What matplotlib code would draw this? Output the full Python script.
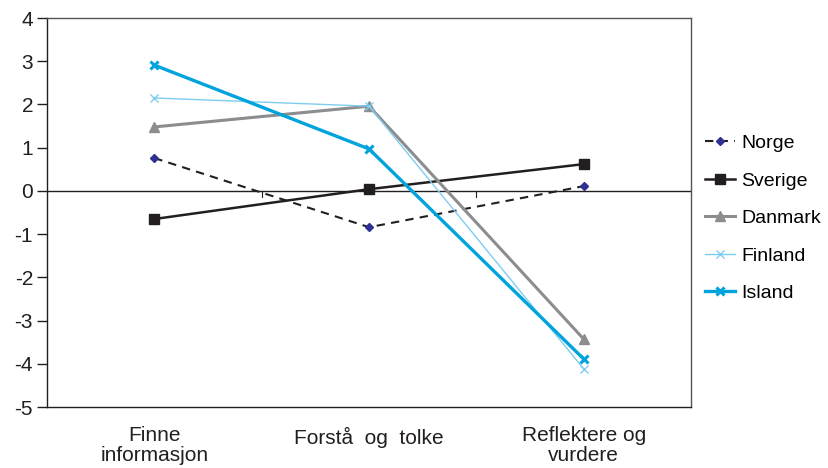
import numpy as np
import matplotlib.pyplot as plt
from matplotlib import rcParams
rcParams.update({'font.size': 12, 'font.family': ['Liberation Sans', 'DejaVu Sans']})

categories = ["Finne\ninformasjon", "Forstå  og  tolke", "Reflektere og\nvurdere"]
norge = [0.76, -0.84, 0.11]
sverige = [-0.65, 0.04, 0.62]
danmark = [1.48, 1.96, -3.43]
finland = [2.15, 1.96, -4.12]
island = [2.91, 0.97, -3.89]
yticks = [4, 3, 2, 1, 0, -1, -2, -3, -4, -5]


def main():
    fig = plt.figure(figsize=(8.29, 4.68), dpi=100)
    ax = fig.add_axes([0.0567, 0.1303, 0.777, 0.8312])
    x = np.arange(len(categories))

    ax.plot(x, norge, color="#231F20", lw=1.5, ls=(0, (4, 3)), marker="D", ms=4,
            mfc="#2E3192", mec="#2E3192", label="Norge")
    ax.plot(x, sverige, color="#231F20", lw=1.8, marker="s", ms=6.5, label="Sverige")
    ax.plot(x, danmark, color="#8C8D8F", lw=2.2, marker="^", ms=7, label="Danmark")
    ax.plot(x, finland, color="#7FCDF0", lw=1.0, marker="x", ms=5.5, mew=1.0, label="Finland")
    ax.plot(x, island, color="#00A3DC", lw=2.4, marker="x", ms=6, mew=2.2, label="Island")

    ax.axhline(0, color="#231F20", lw=1.0, zorder=1)
    # category boundary ticks sitting on the zero line
    for b in [0.5, 1.5]:
        ax.plot([b, b], [0, -0.14], color="#231F20", lw=0.8, zorder=1)

    ax.set_xlim(-0.5, 2.5)
    ax.set_ylim(-5, 4)
    ax.set_yticks(yticks)
    ax.set_yticklabels([str(v) for v in yticks], fontsize=15, color="#231F20")
    ax.set_xticks(x)
    ax.set_xticklabels(categories, fontsize=15, color="#231F20", linespacing=1.05)
    ax.tick_params(axis="x", length=0, pad=14)
    ax.tick_params(axis="y", length=7, width=1.0, color="#231F20", pad=3)
    for s in ax.spines.values():
        s.set_color("#231F20")
        s.set_linewidth(1.0)
    for s in ["top", "right"]:
        ax.spines[s].set_color("#555555")

    ax.legend(loc="center left", bbox_to_anchor=(0.995, 0.485), frameon=False,
              fontsize=14, handlelength=1.5, handletextpad=0.35, labelspacing=1.02,
              borderaxespad=0.5)

    fig.savefig("out.png", dpi=100)
    plt.close()


if __name__ == "__main__":
    main()
